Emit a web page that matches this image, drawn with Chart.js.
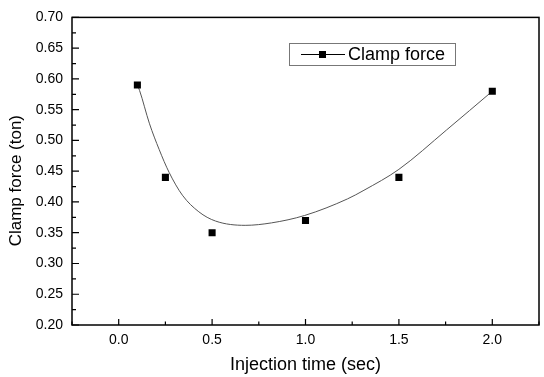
<!DOCTYPE html>
<html><head><meta charset="utf-8">
<script src="https://cdn.jsdelivr.net/npm/chart.js@4/dist/chart.umd.min.js"></script>
<style>html,body{margin:0;padding:0;background:#fff}#wrap{width:544px;height:377px}</style>
</head><body><div id="wrap"><canvas id="c" width="544" height="377"></canvas></div>
<script>
const injectionTime = [0.1, 0.25, 0.5, 1.0, 1.5, 2.0];
const clampForce = [0.59, 0.44, 0.35, 0.37, 0.44, 0.58];
const fitTime = [0.10, 0.112, 0.164, 0.217, 0.270, 0.341, 0.429, 0.518, 0.677, 0.818, 0.995, 1.225, 1.313, 1.50, 1.755, 2.0];
const fitForce = [0.590, 0.581, 0.528, 0.485, 0.448, 0.411, 0.384, 0.369, 0.362, 0.366, 0.378, 0.405, 0.419, 0.453, 0.517, 0.580];
const xTicks = [0.0, 0.5, 1.0, 1.5, 2.0];
const xMinorTicks = [-0.25, 0.25, 0.75, 1.25, 1.75, 2.25];
const yTicks = [0.20, 0.25, 0.30, 0.35, 0.40, 0.45, 0.50, 0.55, 0.60, 0.65, 0.70];
const yMinorTicks = [0.225, 0.275, 0.325, 0.375, 0.425, 0.475, 0.525, 0.575, 0.625, 0.675];
const seriesLabel = 'Clamp force';
const xTitle = 'Injection time (sec)';
const yTitle = 'Clamp force (ton)    ';

const FONT = '"Liberation Sans", Arial, sans-serif';

const framePlugin = {
  id: 'frame',
  afterDraw(chart) {
    const ctx = chart.ctx, a = chart.chartArea;
    const xs = chart.scales.x, ys = chart.scales.y;
    ctx.save();
    ctx.strokeStyle = '#000';
    ctx.lineWidth = 1.5;
    ctx.strokeRect(a.left, a.top, a.right - a.left, a.bottom - a.top);
    ctx.lineWidth = 1.2;
    ctx.beginPath();
    xTicks.forEach(v => { const p = xs.getPixelForValue(v); ctx.moveTo(p, a.bottom); ctx.lineTo(p, a.bottom - 6); });
    xMinorTicks.forEach(v => { const p = xs.getPixelForValue(v); ctx.moveTo(p, a.bottom); ctx.lineTo(p, a.bottom - 3.5); });
    yTicks.forEach(v => { const p = ys.getPixelForValue(v); ctx.moveTo(a.left, p); ctx.lineTo(a.left + 7, p); });
    yMinorTicks.forEach(v => { const p = ys.getPixelForValue(v); ctx.moveTo(a.left, p); ctx.lineTo(a.left + 4, p); });
    ctx.stroke();

    // legend
    const lx = 289, ly = 43, lw = 166, lh = 22;
    ctx.fillStyle = '#fff';
    ctx.fillRect(lx, ly, lw, lh);
    ctx.strokeStyle = '#777';
    ctx.lineWidth = 1;
    ctx.strokeRect(lx + 0.5, ly + 0.5, lw, lh);
    const cy = ly + lh / 2 + 0.5;
    ctx.strokeStyle = '#000';
    ctx.beginPath(); ctx.moveTo(301, cy); ctx.lineTo(345, cy); ctx.stroke();
    ctx.fillStyle = '#000';
    ctx.fillRect(322.5 - 3.5, cy - 3.5, 7, 7);
    ctx.font = '18px ' + FONT;
    ctx.textBaseline = 'middle';
    ctx.textAlign = 'left';
    ctx.fillText(chart.data.datasets[0].label, 348, cy + 0.5);
    ctx.restore();
  }
};

new Chart(document.getElementById('c'), {
  type: 'line',
  data: {
    datasets: [
      {
        label: seriesLabel,
        data: injectionTime.map((x, i) => ({ x, y: clampForce[i] })),
        showLine: false,
        pointStyle: 'rect',
        pointRadius: 5,
        pointBackgroundColor: '#000',
        pointBorderColor: '#000',
        pointBorderWidth: 0
      },
      {
        label: 'fit',
        data: fitTime.map((x, i) => ({ x, y: fitForce[i] })),
        showLine: true,
        borderColor: '#555',
        borderWidth: 1,
        pointRadius: 0,
        cubicInterpolationMode: 'monotone',
        fill: false
      }
    ]
  },
  options: {
    responsive: false,
    animation: false,
    devicePixelRatio: 1,
    layout: { padding: { top: 12, right: 2, left: 0, bottom: 0 } },
    plugins: { legend: { display: false }, tooltip: { enabled: false } },
    scales: {
      x: {
        type: 'linear', min: -0.25, max: 2.25,
        grid: { display: false, drawTicks: false }, border: { display: false },
        afterBuildTicks: s => { s.ticks = xTicks.map(v => ({ value: v })); },
        afterFit: s => { s.height = 52; },
        ticks: { color: '#000', padding: 7, font: { family: FONT, size: 14 }, callback: v => Number(v).toFixed(1), maxRotation: 0 },
        title: { display: true, text: xTitle, color: '#000', font: { family: FONT, size: 18 }, padding: { top: 0, bottom: 1 } }
      },
      y: {
        type: 'linear', min: 0.2, max: 0.7,
        grid: { display: false, drawTicks: false }, border: { display: false },
        afterBuildTicks: s => { s.ticks = yTicks.map(v => ({ value: v })); },
        afterFit: s => { s.width = 72; },
        ticks: { color: '#000', padding: 9, font: { family: FONT, size: 14 }, callback: v => Number(v).toFixed(2) },
        title: { display: true, text: yTitle, color: '#000', font: { family: FONT, size: 17 }, padding: { top: 6, bottom: 0 } }
      }
    }
  },
  plugins: [framePlugin]
});
</script>
</body></html>
